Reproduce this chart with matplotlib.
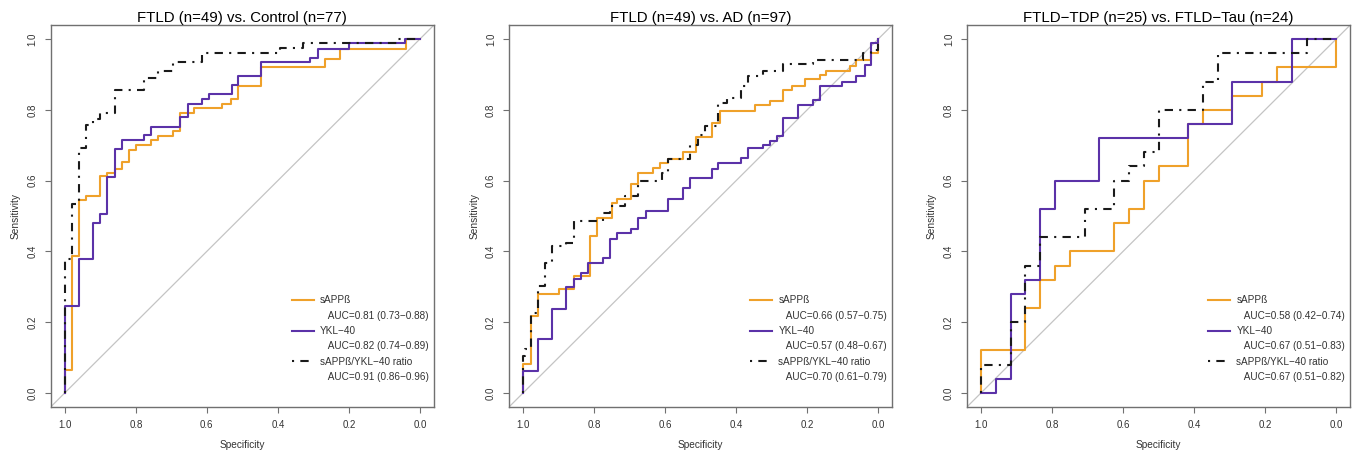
import matplotlib
matplotlib.use("Agg")
import matplotlib.pyplot as plt

plt.rcParams['font.family'] = ['Liberation Sans', 'DejaVu Sans']

titles = ["FTLD (n=49) vs. Control (n=77)",
          "FTLD (n=49) vs. AD (n=97)",
          "FTLD\u2212TDP (n=25) vs. FTLD\u2212Tau (n=24)"]
names = ["sAPP\u00df", "YKL\u221240", "sAPP\u00df/YKL\u221240 ratio"]

# AUC text per panel: (auc, lo, hi) for sAPPb, YKL-40, ratio
auc_text = [
    [("0.81", "0.73", "0.88"), ("0.82", "0.74", "0.89"), ("0.91", "0.86", "0.96")],
    [("0.66", "0.57", "0.75"), ("0.57", "0.48", "0.67"), ("0.70", "0.61", "0.79")],
    [("0.58", "0.42", "0.74"), ("0.67", "0.51", "0.83"), ("0.67", "0.51", "0.82")],
]

# panel 1: FTLD vs Control
p1_sapp_spec = [1.0, 1.0, 0.981, 0.961, 0.940, 0.900, 0.880, 0.859, 0.838, 0.818, 0.799, 0.756,
                0.737, 0.695, 0.675, 0.636, 0.558, 0.532, 0.512, 0.448, 0.266, 0.225, 0.039, 0.0]
p1_sapp_sens = [0.0, 0.065, 0.388, 0.545, 0.557, 0.612, 0.622, 0.633, 0.653, 0.686, 0.700, 0.714,
                0.727, 0.741, 0.790, 0.806, 0.818, 0.831, 0.868, 0.920, 0.945, 0.972, 1.0, 1.0]
p1_ykl_spec = [1.0, 1.0, 0.961, 0.920, 0.900, 0.880, 0.859, 0.838, 0.777, 0.756, 0.675, 0.654,
               0.615, 0.593, 0.530, 0.512, 0.448, 0.310, 0.286, 0.200, 0.042, 0.0]
p1_ykl_sens = [0.0, 0.245, 0.378, 0.480, 0.505, 0.610, 0.688, 0.714, 0.728, 0.752, 0.780, 0.818,
               0.830, 0.845, 0.870, 0.895, 0.935, 0.948, 0.973, 0.988, 1.0, 1.0]
p1_ratio_spec = [1.0, 1.0, 0.981, 0.961, 0.940, 0.920, 0.900, 0.859, 0.777, 0.737, 0.695, 0.615,
                 0.394, 0.329, 0.061, 0.0]
p1_ratio_sens = [0.0, 0.378, 0.533, 0.693, 0.758, 0.773, 0.791, 0.857, 0.890, 0.909, 0.935, 0.960,
                 0.975, 0.989, 1.0, 1.0]

# panel 2: FTLD vs AD
p2_sapp_spec = [1.0, 1.0, 0.979, 0.958, 0.899, 0.857, 0.812, 0.793, 0.751, 0.737, 0.695, 0.676,
                0.634, 0.615, 0.592, 0.550, 0.512, 0.469, 0.446, 0.347, 0.305, 0.268, 0.244, 0.207,
                0.164, 0.146, 0.080, 0.061, 0.019, 0.0]
p2_sapp_sens = [0.0, 0.082, 0.218, 0.279, 0.293, 0.331, 0.444, 0.495, 0.538, 0.547, 0.591, 0.622,
                0.636, 0.650, 0.660, 0.680, 0.724, 0.764, 0.796, 0.815, 0.824, 0.857, 0.868, 0.888,
                0.899, 0.909, 0.923, 0.940, 0.962, 1.0]
p2_ykl_spec = [1.0, 1.0, 0.958, 0.918, 0.878, 0.857, 0.836, 0.817, 0.775, 0.756, 0.737, 0.695,
               0.676, 0.653, 0.592, 0.550, 0.530, 0.469, 0.451, 0.385, 0.366, 0.324, 0.305, 0.286,
               0.268, 0.225, 0.183, 0.164, 0.103, 0.061, 0.038, 0.019, 0.0]
p2_ykl_sens = [0.0, 0.063, 0.152, 0.237, 0.298, 0.321, 0.340, 0.368, 0.382, 0.434, 0.453, 0.462,
               0.495, 0.514, 0.547, 0.580, 0.608, 0.632, 0.650, 0.664, 0.693, 0.702, 0.711, 0.726,
               0.777, 0.815, 0.829, 0.867, 0.878, 0.897, 0.928, 0.990, 1.0]
p2_ratio_spec = [1.0, 1.0, 0.995, 0.979, 0.958, 0.939, 0.918, 0.878, 0.857, 0.775, 0.756, 0.714,
                 0.676, 0.610, 0.592, 0.530, 0.507, 0.488, 0.451, 0.427, 0.385, 0.366, 0.324,
                 0.268, 0.183, 0.042, 0.019, 0.0]
p2_ratio_sens = [0.0, 0.105, 0.124, 0.227, 0.303, 0.368, 0.415, 0.423, 0.486, 0.509, 0.528, 0.556,
                 0.599, 0.622, 0.662, 0.702, 0.730, 0.754, 0.820, 0.834, 0.867, 0.897, 0.909,
                 0.930, 0.940, 0.960, 0.970, 1.0]

# panel 3: FTLD-TDP vs FTLD-Tau
p3_sapp_spec = [1.0, 1.0, 0.875, 0.833, 0.792, 0.750, 0.625, 0.583, 0.542, 0.500, 0.417, 0.375,
                0.292, 0.208, 0.167, 0.0]
p3_sapp_sens = [0.0, 0.12, 0.24, 0.32, 0.36, 0.40, 0.48, 0.52, 0.60, 0.64, 0.76, 0.80,
                0.84, 0.88, 0.92, 1.0]
p3_ykl_spec = [1.0, 0.958, 0.917, 0.875, 0.833, 0.792, 0.667, 0.417, 0.292, 0.125, 0.0]
p3_ykl_sens = [0.0, 0.04, 0.28, 0.32, 0.52, 0.60, 0.72, 0.76, 0.88, 1.0, 1.0]
p3_ratio_spec = [1.0, 1.0, 0.917, 0.875, 0.833, 0.708, 0.625, 0.583, 0.542, 0.500, 0.375, 0.333,
                 0.083, 0.0]
p3_ratio_sens = [0.0, 0.08, 0.20, 0.36, 0.44, 0.52, 0.60, 0.64, 0.68, 0.80, 0.88, 0.96, 1.0, 1.0]

curves = [
    [(p1_sapp_spec, p1_sapp_sens), (p1_ykl_spec, p1_ykl_sens), (p1_ratio_spec, p1_ratio_sens)],
    [(p2_sapp_spec, p2_sapp_sens), (p2_ykl_spec, p2_ykl_sens), (p2_ratio_spec, p2_ratio_sens)],
    [(p3_sapp_spec, p3_sapp_sens), (p3_ykl_spec, p3_ykl_sens), (p3_ratio_spec, p3_ratio_sens)],
]

colors = ["#EFA12A", "#5B32A8", "#1a1a1a"]
dashes = [None, None, (1, 3, 4, 3)]
ticks = [0.0, 0.2, 0.4, 0.6, 0.8, 1.0]
tick_labels = ["0.0", "0.2", "0.4", "0.6", "0.8", "1.0"]

fig = plt.figure(figsize=(13.58, 4.55), dpi=100)
lefts = [0.0373, 0.3748, 0.712]
spine_col = "#707070"

for i in range(3):
    ax = fig.add_axes([lefts[i], 0.1055, 0.2823, 0.8396])
    ax.set_xlim(1.04, -0.04)
    ax.set_ylim(-0.04, 1.04)
    ax.plot([1.04, -0.04], [-0.04, 1.04], color="#c4c4c4", lw=0.9, zorder=1)
    handles = []
    for j in range(3):
        sp, se = curves[i][j]
        ln, = ax.step(sp, se, where="post", color=colors[j], lw=1.5, zorder=2 + j)
        if dashes[j] is not None:
            ln.set_dashes(dashes[j])
        handles.append(ln)
    ax.set_title(titles[i], fontsize=10.8, pad=2)
    ax.set_xticks(ticks)
    ax.set_xticklabels(tick_labels)
    ax.set_yticks(ticks)
    ax.set_yticklabels(tick_labels, rotation=90, va="center")
    ax.tick_params(length=4.3, width=0.8, color=spine_col, labelsize=7, labelcolor="#333333", pad=5)
    for s in ax.spines.values():
        s.set_color(spine_col)
        s.set_linewidth(1.0)
    ax.set_xlabel("Specificity", fontsize=7.3, color="#333333", labelpad=7.5)
    ax.set_ylabel("Sensitivity", fontsize=7.3, color="#333333", labelpad=5)

    blank = plt.Line2D([], [], color="none")
    leg_h, leg_l = [], []
    for j in range(3):
        a, lo, hi = auc_text[i][j]
        leg_h += [handles[j], blank]
        leg_l += [names[j], "   AUC=%s (%s\u2212%s)" % (a, lo, hi)]
    leg = ax.legend(leg_h, leg_l, loc="lower right", frameon=False, fontsize=7.2,
                    handlelength=2.2, handletextpad=0.6, labelspacing=0.53,
                    borderaxespad=0, bbox_to_anchor=(0.997, 0.055))
    for t in leg.get_texts():
        t.set_color("#333333")

fig.savefig("out.png", dpi=100)
